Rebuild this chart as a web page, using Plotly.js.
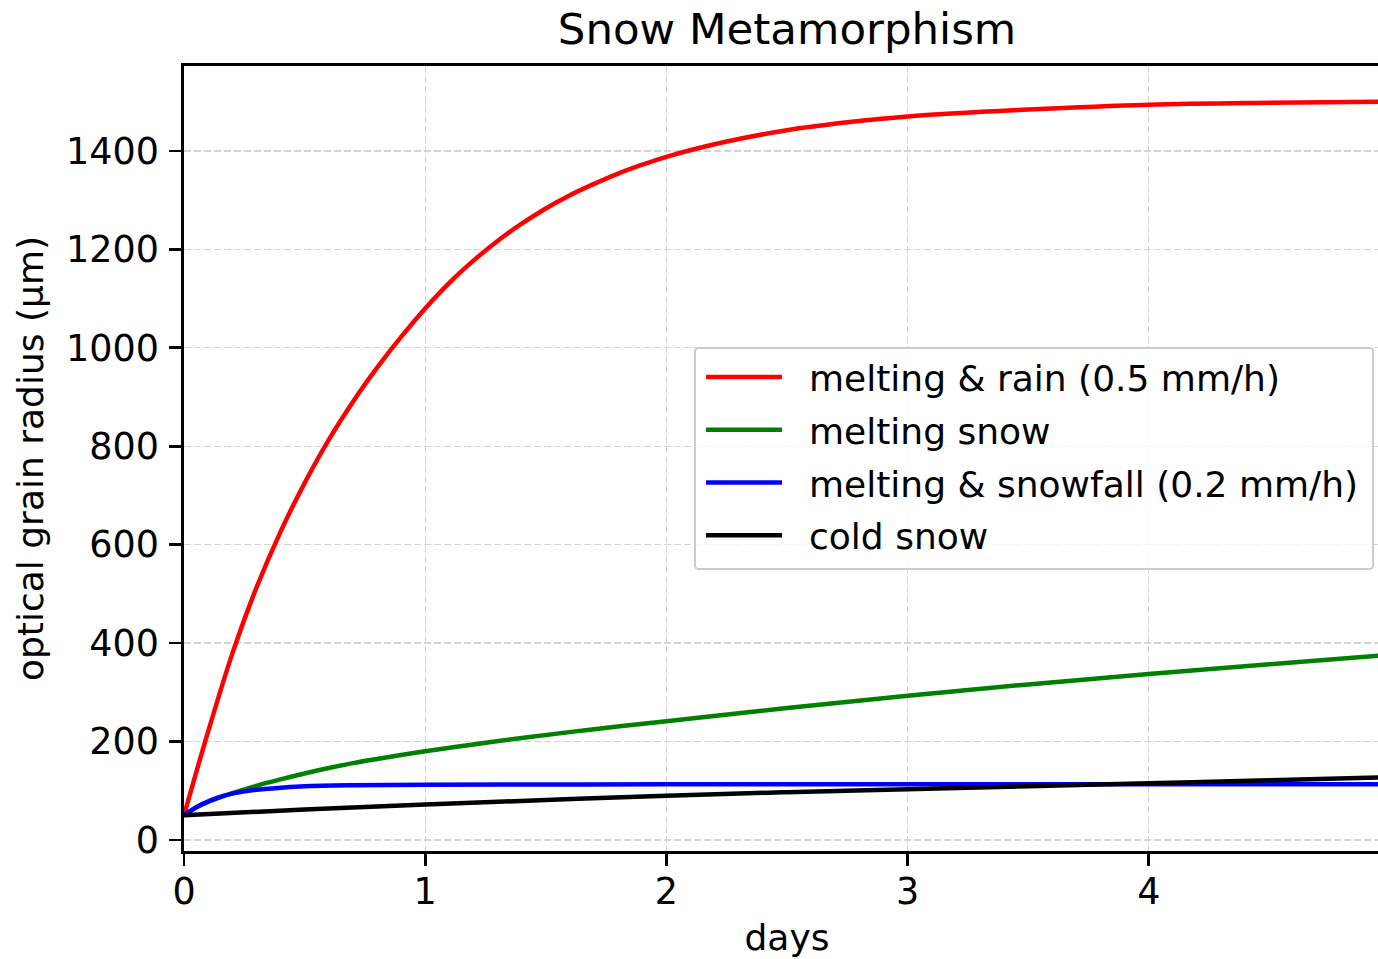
<!DOCTYPE html>
<html>
<head>
<meta charset="utf-8">
<script src="https://cdn.plot.ly/plotly-3.0.1.min.js"></script>
<style>
  html, body { margin: 0; padding: 0; overflow: hidden; background: #ffffff; }
  #chart { width: 1390px; height: 959px; }
</style>
</head>
<body>
<div id="chart"></div>
<script>
// Optical grain radius (µm) over time (days) for four snow scenarios

const rainDays = [0, 0.1, 0.2, 0.3, 0.4, 0.5, 0.6, 0.7, 0.8, 0.9, 1.0, 1.1, 1.2, 1.3, 1.4, 1.5, 1.6, 1.7, 1.8, 1.9, 2.0, 2.25, 2.5, 2.75, 3.0, 3.5, 4.0, 4.5, 5.0];
const rainRadius = [50, 220, 378, 512, 626, 725, 813, 890, 959, 1022, 1080, 1132, 1177, 1217, 1252, 1283, 1310, 1333, 1354, 1372, 1388, 1419, 1442, 1458, 1470, 1484, 1494, 1498, 1500];

const meltDays = [0, 0.05, 0.1, 0.2, 0.3, 0.4, 0.5, 0.6, 0.7, 0.8, 0.9, 1.0, 1.2, 1.4, 1.7, 2.0, 2.5, 3.0, 3.5, 4.0, 4.5, 5.0];
const meltRadius = [50, 66, 77, 95, 110, 123, 135, 146, 156, 164.5, 172.5, 180, 194, 207, 225, 241, 268, 293, 316, 337, 357, 376];

const snowfallDays = [0, 0.04, 0.08, 0.14, 0.2, 0.3, 0.4, 0.5, 0.7, 1.0, 1.5, 2.0, 3.0, 4.0, 5.0];
const snowfallRadius = [50, 63, 74, 86, 94, 102, 106, 109, 111, 112, 112.5, 113, 113, 113, 113];

const coldDays = [0, 0.5, 1.0, 1.5, 2.0, 2.5, 3.0, 3.5, 4.0, 4.5, 5.0];
const coldRadius = [50, 62, 72, 81, 90, 97, 103, 109, 115, 121, 127.5];

const seriesNames = ['melting & rain (0.5 mm/h)', 'melting snow', 'melting & snowfall (0.2 mm/h)', 'cold snow'];
const seriesColors = ['#ff0000', '#008000', '#0000ff', '#000000'];
const dayTicks = [0, 1, 2, 3, 4];
const radiusTicks = [0, 200, 400, 600, 800, 1000, 1200, 1400];

const xs = [rainDays, meltDays, snowfallDays, coldDays];
const ys = [rainRadius, meltRadius, snowfallRadius, coldRadius];

const traces = seriesNames.map((name, i) => ({
  x: xs[i],
  y: ys[i],
  name: name,
  type: 'scatter',
  mode: 'lines',
  legendgroup: 'g' + i,
  line: { color: seriesColors[i], width: 4.5, shape: 'spline', smoothing: 1 }
}));

const font = 'DejaVu Sans, sans-serif';

const layout = {
  width: 1390,
  height: 959,
  paper_bgcolor: '#ffffff',
  plot_bgcolor: '#ffffff',
  margin: { l: 184, r: 0, t: 66, b: 108, pad: 0 },
  font: { family: font, size: 36, color: '#000000' },
  title: {
    text: 'Snow Metamorphism',
    font: { family: font, size: 43.5, color: '#000000' },
    xref: 'paper', x: 0.5, xanchor: 'center',
    yref: 'container', y: 0.970, yanchor: 'middle'
  },
  showlegend: true,
  legend: {
    x: 0.4229, xanchor: 'left',
    y: 0.642, yanchor: 'top',
    bgcolor: 'rgba(255,255,255,0.8)',
    bordercolor: '#cccccc',
    borderwidth: 2,
    font: { family: font, size: 36, color: '#000000' },
    itemwidth: 76,
    tracegroupgap: 3
  },
  xaxis: {
    range: [0, 5],
    tickvals: dayTicks,
    ticktext: dayTicks.map(String),
    ticks: 'outside', ticklen: 12, tickwidth: 2.8, tickcolor: '#000000',
    ticklabelstandoff: -6,
    showline: true, linecolor: '#000000', linewidth: 2.8, mirror: true,
    showgrid: true, gridcolor: '#d4d4d4', gridwidth: 1.3, griddash: '7px,3px',
    zeroline: false,
    tickfont: { family: font, size: 36.5 },
    title: { text: 'days', font: { family: font, size: 36 }, standoff: 14 }
  },
  yaxis: {
    range: [-22.5, 1572.5],
    tickvals: radiusTicks,
    ticktext: radiusTicks.map(String),
    ticks: 'outside', ticklen: 12, tickwidth: 2.8, tickcolor: '#000000',
    ticklabelstandoff: 3,
    showline: true, linecolor: '#000000', linewidth: 2.8, mirror: true,
    showgrid: true, gridcolor: '#d4d4d4', gridwidth: 1.3, griddash: '7px,3px',
    zeroline: false,
    tickfont: { family: font, size: 36.5 },
    title: { text: 'optical grain radius (μm)', font: { family: font, size: 36 }, standoff: 12 }
  }
};

// Legend spacing: indent the line samples a little and leave a wider gap before each label
function spaceLegend(gd) {
  const textGap = 27;
  const lineShift = 5;
  const extraWidth = 8;
  const legend = gd.querySelector('.legend');
  if (!legend) return;
  legend.querySelectorAll('.legendtext').forEach(t => {
    const x = parseFloat(t.getAttribute('x')) || 0;
    t.setAttribute('x', x + textGap);
  });
  legend.querySelectorAll('.legendlines').forEach(g => {
    g.setAttribute('transform', 'translate(' + lineShift + ',0)');
  });
  legend.querySelectorAll('.traces').forEach(tr => {
    const m = /translate\(\s*([-\d.]+)[ ,]+([-\d.]+)\s*\)/.exec(tr.getAttribute('transform') || '');
    if (m) tr.setAttribute('transform', 'translate(' + m[1] + ',' + (parseFloat(m[2]) - 2) + ')');
  });
  const scroll = legend.querySelector('.scrollbox');
  if (scroll) scroll.removeAttribute('clip-path');
  const bg = legend.querySelector('rect.bg');
  if (bg) {
    const w = parseFloat(bg.getAttribute('width')) || 0;
    bg.setAttribute('width', w + textGap + extraWidth);
    bg.setAttribute('rx', 4);
    bg.setAttribute('ry', 4);
  }
}

Plotly.newPlot('chart', traces, layout, { displayModeBar: false, staticPlot: true })
  .then(gd => { try { spaceLegend(gd); } catch (e) { /* keep default legend */ } });
</script>
</body>
</html>
